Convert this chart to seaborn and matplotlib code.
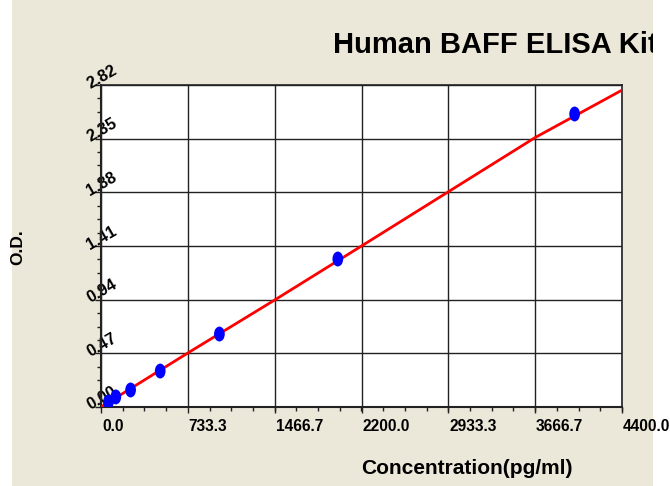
import numpy as np
import pandas as pd
import seaborn as sns
import matplotlib.pyplot as plt
from matplotlib.path import Path
from matplotlib.transforms import Affine2D, ScaledTranslation
from matplotlib.patches import Rectangle
from matplotlib.ticker import AutoMinorLocator

# standard points
conc = [62.5, 125, 250, 500, 1000, 2000, 4000]
od = [0.044, 0.088, 0.149, 0.315, 0.639, 1.296, 2.566]

# fitted curve, read at the x gridlines
curve_x = [0.0, 733.3, 1466.7, 2200.0, 2933.3, 3666.7, 4400.0]
curve_y = [0.0, 0.473, 0.937, 1.41, 1.885, 2.36, 2.775]

xticks = [0.0, 733.3, 1466.7, 2200.0, 2933.3, 3666.7, 4400.0]
xtick_labels = ["0.0", "733.3", "1466.7", "2200.0", "2933.3", "3666.7", "4400.0"]
yticks = [0.0, 0.47, 0.94, 1.41, 1.88, 2.35, 2.82]
ytick_labels = ["0.00", "0.47", "0.94", "1.41", "1.88", "2.35", "2.82"]

pts = pd.DataFrame({"conc": conc, "od": od})
fit = pd.DataFrame({"conc": curve_x, "od": curve_y})

sns.set_style("white")
plt.rcParams["font.family"] = ["Liberation Sans", "DejaVu Sans"]
plt.rcParams["text.color"] = "black"
plt.rcParams["xtick.color"] = "black"
plt.rcParams["ytick.color"] = "black"

beige = "#ebe7d9"
fig = plt.figure(figsize=(6.7, 4.86), dpi=100, facecolor=beige)
ax = fig.add_axes([101 / 670, 1 - 407 / 486, 521 / 670, 322 / 486])
ax.set_facecolor("white")

sns.lineplot(data=fit, x="conc", y="od", color="red", lw=2, ax=ax, zorder=3)

ellipse = Path.unit_circle().transformed(Affine2D().scale(0.72, 1.0))
sns.scatterplot(data=pts, x="conc", y="od", marker=ellipse, s=115, color="#0000ff",
                edgecolor="none", ax=ax, zorder=4)

ax.set_xlim(0, 4400)
ax.set_ylim(0, 2.82)
ax.set_xticks(xticks)
ax.set_xticklabels(xtick_labels, fontweight="bold", fontsize=11.2, ha="left")
ax.set_yticks(yticks)
ax.set_yticklabels(ytick_labels, fontweight="bold", fontsize=11.8, rotation=30,
                   ha="center", va="center", rotation_mode="anchor")
ax.xaxis.set_minor_locator(AutoMinorLocator(4))
ax.yaxis.set_minor_locator(AutoMinorLocator(4))
ax.tick_params(which="major", direction="out", length=4.5, width=1, color="#222222",
               bottom=True, left=True)
ax.tick_params(which="minor", direction="out", length=3, width=1, color="#222222",
               bottom=True, left=True)
ax.tick_params(axis="x", which="major", pad=4)
ax.tick_params(axis="y", which="major", pad=-5.2)
ax.grid(True, which="major", color="#222222", lw=1)
ax.set_axisbelow(True)
for side in ["top", "right"]:
    ax.spines[side].set_color("#222222")
    ax.spines[side].set_linewidth(1.2)
for side in ["left", "bottom"]:
    ax.spines[side].set_color("#222222")
    ax.spines[side].set_linewidth(1.5)
ax.set_xlabel("")
ax.set_ylabel("")

up = ScaledTranslation(0, 6 / 72, fig.dpi_scale_trans)
for lab in ax.get_yticklabels():
    lab.set_transform(lab.get_transform() + up)
right = ScaledTranslation(0.7 / 72, 0, fig.dpi_scale_trans)
for lab in ax.get_xticklabels():
    lab.set_transform(lab.get_transform() + right)

fig.text(333 / 670, 1 - 53 / 486, "Human BAFF ELISA Kit", fontsize=21,
         fontweight="bold", ha="left", va="baseline", zorder=-2)
fig.text(467 / 670, 1 - 474 / 486, "Concentration(pg/ml)", fontsize=15,
         fontweight="bold", ha="center", va="baseline")
fig.text(18 / 670, 1 - 247 / 486, "O.D.", fontsize=12.5, fontweight="bold",
         rotation=90, ha="center", va="center")

# white edges of the screenshot
fig.add_artist(Rectangle((0, 0), 12 / 670, 1, transform=fig.transFigure,
                         facecolor="white", edgecolor="none", zorder=-1))
fig.add_artist(Rectangle((653 / 670, 0), 17 / 670, 1, transform=fig.transFigure,
                         facecolor="white", edgecolor="none", zorder=-1))

fig.savefig("out.png", dpi=100, facecolor=beige)
